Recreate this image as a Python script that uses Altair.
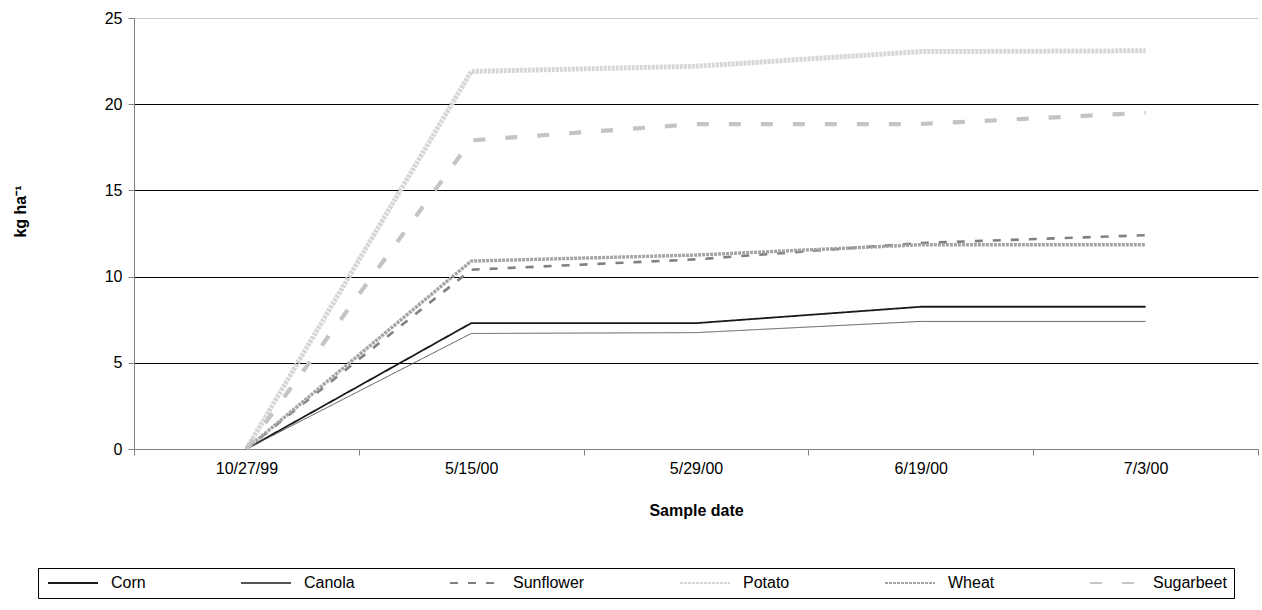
import altair as alt
import pandas as pd

dates = ["10/27/99", "5/15/00", "5/29/00", "6/19/00", "7/3/00"]
crops = ["Corn", "Canola", "Sunflower", "Potato", "Wheat", "Sugarbeet"]
corn = [0, 7.3, 7.3, 8.25, 8.25]
canola = [0, 6.7, 6.75, 7.4, 7.4]
sunflower = [0, 10.4, 11.0, 11.95, 12.4]
potato = [0, 21.9, 22.2, 23.05, 23.1]
wheat = [0, 10.9, 11.25, 11.85, 11.85]
sugarbeet = [0, 17.9, 18.85, 18.85, 19.5]

colors = ["#1a1a1a", "#555555", "#808080", "#d6d6d6", "#a4a4a4", "#c4c4c4"]
# line thickness rank (thin -> thick)
width_order = ["Canola", "Corn", "Sunflower", "Wheat", "Sugarbeet", "Potato"]
width_range = [1, 5]
dashes = [[1, 0], [1, 0], [8, 10], [3, 1], [3, 1], [12, 20]]

series = [corn, canola, sunflower, potato, wheat, sugarbeet]
rows = []
for crop, vals in zip(crops, series):
    for d, v in zip(dates, vals):
        rows.append({"date": d, "crop": crop, "value": v})
df = pd.DataFrame(rows)

FONT = "Liberation Sans"

chart = alt.Chart(df).mark_line().encode(
    x=alt.X("date:N", sort=dates, title="Sample date",
            axis=alt.Axis(labelAngle=0, tickBand="extent", tickSize=6,
                          labelPadding=5, titlePadding=26, domainColor="#808080",
                          tickColor="#808080", labelFontSize=16, titleFontSize=16,
                          titleFontWeight="bold", labelColor="black", titleColor="black")),
    y=alt.Y("value:Q", scale=alt.Scale(domain=[0, 25], nice=False),
            title="kg ha⁻¹",
            axis=alt.Axis(values=[0, 5, 10, 15, 20, 25], tickSize=6, labelPadding=6,
                          domainColor="#808080", tickColor="#808080",
                          gridColor={"condition": {"test": "datum.value == 25 || datum.value == 0",
                                                   "value": "#c8c8c8"}, "value": "#000000"},
                          gridWidth=1, labelFontSize=16, titleFontSize=16,
                          titleFontWeight="bold", titleX=-114, titleY=193,
                          titleAngle=-90, titleAlign="center", titleBaseline="middle",
                          labelColor="black", titleColor="black")),
    color=alt.Color("crop:N", sort=crops, scale=alt.Scale(domain=crops, range=colors),
                    title=None,
                    legend=alt.Legend(orient="none", legendX=-96, legendY=550,
                                      direction="horizontal", columns=6,
                                      symbolType="M-1,0H9", symbolSize=100,
                                      symbolStrokeWidth=2,
                                      labelFontSize=16, labelColor="black",
                                      strokeColor="black", padding=7,
                                      columnPadding=91, labelOffset=50)),
    strokeWidth=alt.StrokeWidth("crop:N",
                                scale=alt.Scale(type="point", domain=width_order,
                                                range=width_range, padding=0),
                                legend=None),
    strokeDash=alt.StrokeDash("crop:N", sort=crops,
                              scale=alt.Scale(domain=crops, range=dashes), title=None),
    detail="crop:N",
).properties(
    width=1124, height=431,
    padding={"left": 12, "top": 10, "right": 0, "bottom": 0},
).configure(font=FONT).configure_view(stroke=None).configure_axis(grid=True)

chart = chart.configure_axisX(grid=False)

chart.save("out.html", embed_options={"renderer": "svg", "actions": False})
